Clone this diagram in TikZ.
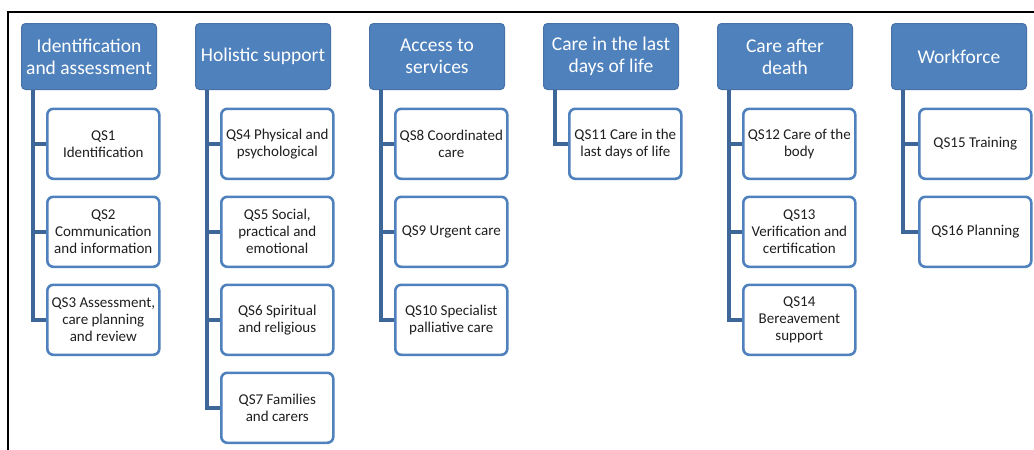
\documentclass[tikz,border=0pt]{standalone}
\usepackage{fontspec}
\setmainfont{Carlito}
\usetikzlibrary{calc}
\definecolor{hdrfill}{HTML}{4F81BD}
\definecolor{hdrline}{HTML}{4672A8}
\definecolor{boxline}{HTML}{4F81BD}
\definecolor{connline}{HTML}{3D6699}
\definecolor{txt}{HTML}{1F1F1F}
\tikzset{
  hdr/.style={rectangle, rounded corners=4pt, fill=hdrfill, draw=hdrline, line width=1pt,
    minimum width=135pt, minimum height=66pt, anchor=north west, align=center,
    text=white, font=\fontsize{19.5}{22}\selectfont, inner sep=1pt},
  child/.style={rectangle, rounded corners=6pt, fill=white, draw=boxline, line width=2.6pt,
    minimum width=112pt, minimum height=70pt, anchor=north west, align=center,
    text=txt, font=\fontsize{15}{17}\selectfont, inner sep=1pt},
  conn/.style={draw=connline, line width=3.5pt},
  frameline/.style={draw=black, line width=2pt}
}
\begin{document}
\begin{tikzpicture}[x=1pt,y=-1pt]
\useasboundingbox (0,0) rectangle (1034,450);
\coordinate (fa) at (8,450);
\coordinate (fb) at (8,12);
\coordinate (fc) at (1034,12);
\draw[frameline] (fa) -- (fb) -- (fc);

% headers
\node[hdr] (h1) at (21,23) {Identification\\and assessment};
\node[hdr] (h2) at (195,23) {Holistic support};
\node[hdr] (h3) at (369,23) {Access to\\services};
\node[hdr] (h4) at (543,23) {Care in the last\\days of life};
\node[hdr] (h5) at (717,23) {Care after\\death};
\node[hdr] (h6) at (891,23) {Workforce};

% trunk coordinates
\foreach \i in {1,...,6}{
  \coordinate (t\i) at ($(h\i.south west)+(12,0)$);
}

% column 1
\node[child] (c11) at (46,107.5) {QS1\\Identification};
\node[child] (c12) at (46,195.5) {QS2\\Communication\\and information};
\node[child] (c13) at (46,283.5) {QS3 Assessment,\\care planning\\and review};
% column 2
\node[child] (c21) at (220,107.5) {QS4 Physical and\\psychological};
\node[child] (c22) at (220,195.5) {QS5 Social,\\practical and\\emotional};
\node[child] (c23) at (220,283.5) {QS6 Spiritual\\and religious};
\node[child] (c24) at (220,371.5) {QS7 Families\\and carers};
% column 3
\node[child] (c31) at (394,107.5) {QS8 Coordinated\\care};
\node[child] (c32) at (394,195.5) {QS9 Urgent care};
\node[child] (c33) at (394,283.5) {QS10 Specialist\\palliative care};
% column 4
\node[child] (c41) at (568,107.5) {QS11 Care in the\\last days of life};
% column 5
\node[child] (c51) at (742,107.5) {QS12 Care of the\\body};
\node[child] (c52) at (742,195.5) {QS13\\Verification and\\certification};
\node[child] (c53) at (742,283.5) {QS14\\Bereavement\\support};
% column 6
\node[child] (c61) at (918,107.5) {QS15 Training};
\node[child] (c62) at (918,195.5) {QS16 Planning};

% connectors
\draw[conn] (t1) |- (c13.west);
\draw[conn] (t1 |- c11.west) -- (c11.west);
\draw[conn] (t1 |- c12.west) -- (c12.west);
\draw[conn] (t2) |- (c24.west);
\draw[conn] (t2 |- c21.west) -- (c21.west);
\draw[conn] (t2 |- c22.west) -- (c22.west);
\draw[conn] (t2 |- c23.west) -- (c23.west);
\draw[conn] (t3) |- (c33.west);
\draw[conn] (t3 |- c31.west) -- (c31.west);
\draw[conn] (t3 |- c32.west) -- (c32.west);
\draw[conn] (t4) |- (c41.west);
\draw[conn] (t5) |- (c53.west);
\draw[conn] (t5 |- c51.west) -- (c51.west);
\draw[conn] (t5 |- c52.west) -- (c52.west);
\draw[conn] (t6) |- (c62.west);
\draw[conn] (t6 |- c61.west) -- (c61.west);
\end{tikzpicture}
\end{document}
